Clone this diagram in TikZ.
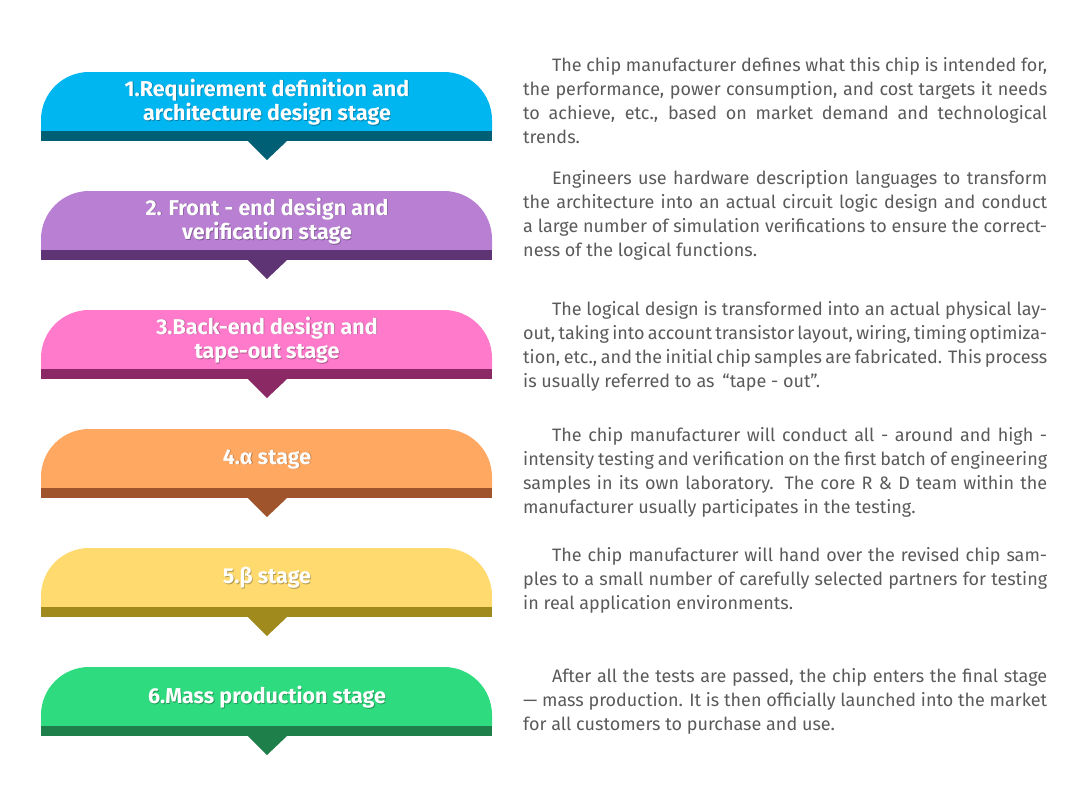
\documentclass[tikz,border=0pt]{standalone}
\usepackage{fontspec}
\setmainfont{Fira Sans}
\definecolor{descgray}{HTML}{5A5A5A}
\definecolor{fillA}{HTML}{00B6F1}\definecolor{bandA}{HTML}{005F74}
\definecolor{fillB}{HTML}{B97FD3}\definecolor{bandB}{HTML}{5E3474}
\definecolor{fillC}{HTML}{FF7ACB}\definecolor{bandC}{HTML}{8A2964}
\definecolor{fillD}{HTML}{FFA862}\definecolor{bandD}{HTML}{A0542C}
\definecolor{fillE}{HTML}{FFDB6F}\definecolor{bandE}{HTML}{A08A1E}
\definecolor{fillF}{HTML}{2EDC7F}\definecolor{bandF}{HTML}{1E7F4A}
\tikzset{
  stagetext/.style={text=white, align=center, font=\fontsize{21.5}{24.5}\selectfont\bfseries},
  shadowtext/.style={stagetext, text=black, opacity=0.3},
  desc/.style={anchor=north west, text width=524pt, align=justify, inner sep=0pt,
    text=descgray, font=\fontsize{18}{24}\selectfont},
}
% #1 name, #2 top, #3 fill, #4 band, #5 label, #6 description top, #7 description
\newcommand{\stagebox}[7]{%
  \fill[#3] (41,{#2+59}) [rounded corners=48] -- (41,#2) -- (492,#2) [sharp corners] -- (492,{#2+59}) -- cycle;
  \fill[#4] (41,{#2+59}) rectangle (492,{#2+69});
  \fill[#4] (248,{#2+69}) -- (287,{#2+69}) -- (267,{#2+88}) -- cycle;
  \node[shadowtext] at (267.8,{#2+30.8}) {#5};
  \node[stagetext] (#1) at (267,{#2+30}) {#5};
  \node[desc] (#1desc) at (523,#6) {\hspace*{1.6em}#7};
}
\begin{document}
\begin{tikzpicture}[x=1pt,y=-1pt]
\useasboundingbox (0,0) rectangle (1080,812);

\stagebox{req}{72}{fillA}{bandA}{1.Requirement definition and\\architecture design stage}{57}
  {The chip manufacturer defines what this chip is intended for, the performance, power consumption, and cost targets it needs to achieve, etc., based on market demand and technological trends.}
\stagebox{front}{191}{fillB}{bandB}{2. Front - end design and\\verification stage}{170}
  {Engineers use hardware description languages to transform the architecture into an actual circuit logic design and conduct a large number of simulation verifications to ensure the correctness of the logical functions.}
\stagebox{back}{310}{fillC}{bandC}{3.Back-end design and\\tape-out stage}{301}
  {The logical design is transformed into an actual physical layout, taking into account transistor layout, wiring, timing optimization, etc., and the initial chip samples are fabricated. This process is usually referred to as \,“tape - out”.}
\stagebox{alpha}{429}{fillD}{bandD}{4.α stage}{427}
  {The chip manufacturer will conduct all - around and high - intensity testing and verification on the first batch of engineering samples in its own laboratory. The core R \& D team within the manufacturer usually participates in the testing.}
\stagebox{beta}{548}{fillE}{bandE}{5.β stage}{547}
  {The chip manufacturer will hand over the revised chip samples to a small number of carefully selected partners for testing in real application environments.}
\stagebox{mass}{667}{fillF}{bandF}{6.Mass production stage}{668}
  {After all the tests are passed, the chip enters the final stage — mass production. It is then officially launched into the market for all customers to purchase and use.}
\end{tikzpicture}
\end{document}
